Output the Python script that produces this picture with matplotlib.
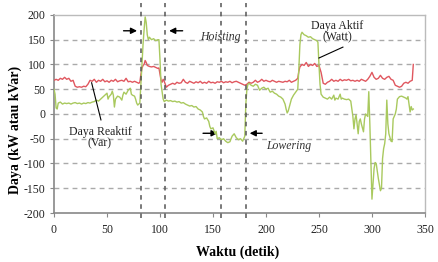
import matplotlib
matplotlib.use("Agg")
import matplotlib.pyplot as plt

plt.rcParams['font.family'] = ['Liberation Serif', 'DejaVu Serif']
plt.rcParams['font.serif'] = ['Liberation Serif', 'DejaVu Serif']
plt.rcParams['axes.unicode_minus'] = False

# Daya Aktif (Watt) - green
t_aktif = [0, 1, 2, 3, 4, 6, 8, 10, 12, 14, 16, 18, 20, 22, 24, 26, 28, 30, 32, 34, 36, 38,
           40, 42, 44, 46, 48, 50, 51, 52, 54, 55, 56, 57, 58, 60, 62, 64, 65, 66, 68, 70,
           72, 73, 74, 76, 77, 78, 79, 80, 81, 82, 83, 84, 85, 86, 87, 88, 89, 90, 92, 94,
           96, 98, 99, 100, 101, 102, 103, 104, 106, 108, 110, 112, 114, 116, 118, 120,
           122, 124, 126, 128, 130, 132, 134, 136, 138, 140, 141, 142, 144, 146, 147, 148,
           150, 152, 153, 154, 156, 158, 160, 162, 164, 166, 168, 170, 172, 174, 176, 178,
           180, 181, 182, 183, 184, 186, 188, 190, 192, 194, 196, 198, 200, 202, 204, 206,
           208, 210, 212, 214, 216, 218, 219, 220, 221, 222, 224, 226, 228, 230, 231, 232,
           233, 234, 236, 238, 240, 242, 244, 246, 248, 249, 250, 251, 252, 254, 256, 258,
           260, 262, 264, 265, 266, 268, 270, 271, 272, 274, 276, 278, 280, 281, 282, 283,
           284, 285, 286, 287, 288, 289, 290, 292, 293, 294, 296, 297, 298, 299, 300, 301,
           302, 303, 304, 306, 308, 309, 310, 311, 312, 313, 314, 315, 316, 318, 319, 320,
           322, 323, 324, 326, 328, 330, 332, 333, 334, 335, 336, 337, 338, 339]
v_aktif = [50, 40, 12, 10, 22, 24, 20, 22, 21, 22, 20, 22, 23, 21, 22, 20, 22, 21, 23, 22, 24, 25,
           28, 26, 30, 34, 38, 42, 30, 35, 40, 46, 38, 14, 30, 36, 34, 28, 38, 44, 40, 48,
           52, 40, 38, 36, 30, 22, 18, 20, 22, 60, 100, 140, 170, 196, 185, 160, 150, 155, 150, 152,
           148, 150, 150, 110, 60, 45, 30, 25, 28, 26, 27, 25, 26, 24, 25, 22,
           23, 20, 18, 16, 17, 14, 15, 10, 8, 4, -5, -10, -8, -15, -25, -30,
           -28, -40, -35, -50, -48, -52, -50, -55, -58, -56, -45, -40, -48, -52, -50, -55,
           -45, 20, 50, 60, 62, 58, 56, 60, 58, 48, 52, 54, 50, 52, 44, 46,
           42, 40, 36, 34, 30, 20, 10, 2, 6, 14, 30, 38, 44, 50, 90, 140,
           160, 165, 160, 158, 155, 156, 152, 150, 148, 145, 100, 60, 40, 34, 32, 30,
           34, 30, 38, 28, 32, 30, 40, 30, 32, 30, 29, 30, 26, 10, -5, -30,
           -10, -2, -20, -40, -15, -10, -20, -36, -10, 0, -5, 45, -20, -100, -172, -140,
           -110, -98, -100, -130, -155, -150, -90, -70, -60, -40, 28, -20, -40, -55, -56, -10,
           0, 10, 30, 35, 36, 34, 32, 30, 35, 20, 4, 15, 8, 10]

# Daya Reaktif (Var) - red
t_reaktif = [0, 2, 4, 6, 8, 10, 12, 14, 16, 18, 20, 22, 24, 26, 28, 30, 32, 34, 36, 38, 40, 42,
             44, 46, 48, 50, 52, 54, 56, 58, 60, 62, 64, 66, 68, 70, 72, 74, 76, 78, 80, 81,
             82, 83, 84, 85, 86, 87, 88, 90, 92, 94, 96, 98, 99, 100, 101, 102, 103, 104, 105,
             106, 108, 110, 112, 114, 116, 118, 120, 122, 124, 126, 128, 130, 132, 134, 136,
             138, 140, 142, 144, 146, 148, 150, 152, 154, 156, 158, 160, 162, 164, 166, 168,
             170, 172, 174, 176, 178, 180, 182, 184, 186, 188, 190, 192, 194, 196, 198, 200,
             202, 204, 206, 208, 210, 212, 214, 216, 218, 220, 222, 224, 226, 228, 230, 231,
             232, 234, 236, 238, 240, 242, 244, 246, 248, 250, 252, 254, 256, 258, 260, 262,
             264, 266, 268, 270, 272, 274, 276, 278, 280, 282, 284, 286, 288, 290, 292, 294,
             296, 298, 300, 302, 304, 306, 308, 310, 312, 314, 316, 318, 320, 322, 324, 326,
             328, 330, 332, 334, 336, 338, 339]
v_reaktif = [68, 70, 68, 72, 70, 74, 70, 72, 66, 68, 56, 54, 55, 54, 56, 55, 60, 68, 66, 70, 64, 68,
             66, 70, 65, 67, 64, 68, 66, 70, 65, 67, 68, 66, 72, 65, 66, 64, 66, 64, 62, 64,
             80, 92, 98, 100, 108, 104, 98, 96, 95, 96, 94, 92, 93, 80, 68, 64, 70, 66, 60,
             54, 58, 60, 62, 60, 64, 62, 63, 70, 64, 62, 66, 64, 62, 65, 63,
             66, 62, 64, 62, 66, 63, 64, 62, 65, 64, 66, 63, 65, 64, 66, 63,
             65, 66, 64, 62, 60, 58, 60, 64, 62, 64, 68, 64, 66, 70, 66, 68,
             66, 65, 68, 66, 64, 66, 65, 64, 66, 65, 68, 64, 66, 68, 72, 86,
             95, 100, 98, 104, 96, 100, 98, 102, 96, 98, 84, 62, 60, 64, 66, 70,
             66, 68, 66, 70, 67, 69, 68, 70, 67, 68, 66, 68, 66, 70, 68, 66,
             70, 76, 84, 74, 70, 72, 78, 72, 70, 74, 76, 70, 68, 58, 56, 54,
             56, 62, 64, 62, 66, 68, 100]

x_ticks = [0, 50, 100, 150, 200, 250, 300, 350]
y_ticks = [-200, -150, -100, -50, 0, 50, 100, 150, 200]
phase_lines = [82, 105, 158, 181]

SERIF = ['Liberation Serif', 'DejaVu Serif']

fig = plt.figure(figsize=(4.39, 2.62), dpi=100)
ax = fig.add_axes([0.123, 0.187, 0.845, 0.756])

for y in y_ticks[1:-1]:
    ax.axhline(y, color='#aaaaaa', lw=1.0, ls=(0, (3.5, 3)), zorder=0)

ax.plot(t_reaktif, v_reaktif, color='#e0575f', lw=1.0, zorder=3)
ax.plot(t_aktif, v_aktif, color='#a9c95e', lw=1.0, zorder=4)

for x in phase_lines:
    ax.axvline(x, ymin=-0.025, ymax=1.06, color='#555555', lw=1.1,
               ls=(0, (3, 3)), clip_on=False, zorder=5)

ax.set_xlim(0, 350)
ax.set_ylim(-200, 200)
ax.set_xticks(x_ticks)
ax.set_yticks(y_ticks)
ax.set_xticklabels([str(v) for v in x_ticks], family=SERIF, fontsize=8.5)
ax.set_yticklabels([str(v) for v in y_ticks], family=SERIF, fontsize=8.5)
ax.tick_params(axis='both', color='#888888', length=3, width=0.8, labelcolor='#222222')
ax.tick_params(axis='x', pad=5)
ax.tick_params(axis='y', pad=3)
for s in ['left', 'bottom']:
    ax.spines[s].set_color('#888888')
    ax.spines[s].set_linewidth(1.2)
for s in ['top', 'right']:
    ax.spines[s].set_color('#bbbbbb')
    ax.spines[s].set_linewidth(1.0)

# arrows
arrow_kw = dict(arrowstyle='-|>', color='black', lw=1.0, mutation_scale=9)
ax.annotate('', xy=(81, 168), xytext=(63, 168), arrowprops=arrow_kw)
ax.annotate('', xy=(106, 168), xytext=(124, 168), arrowprops=arrow_kw)
ax.annotate('', xy=(157, -39), xytext=(138, -39), arrowprops=arrow_kw)
ax.annotate('', xy=(182, -39), xytext=(199, -39), arrowprops=arrow_kw)

ax.text(157, 156, 'Hoisting', style='italic', fontsize=8.5, ha='center', va='center',
        color='#333333', family=SERIF)
ax.text(221, -65, 'Lowering', style='italic', fontsize=8.5, ha='center', va='center',
        color='#333333', family=SERIF)

ax.text(267, 166, 'Daya Aktif\n(Watt)', fontsize=8.5, ha='center', va='center',
        linespacing=1.0, color='#222222', family=SERIF)
ax.plot([272.6, 250], [135, 113], color='black', lw=0.8, zorder=6)
ax.text(43.4, -48, 'Daya Reaktif\n(Var)', fontsize=8.5, ha='center', va='center',
        linespacing=1.0, color='#222222', family=SERIF)
ax.plot([35.5, 44.3], [63, -12], color='black', lw=0.8, zorder=6)

fig.text(238 / 439, 1 - 252 / 262, 'Waktu (detik)', fontsize=10, fontweight='bold',
         ha='center', va='center', family=SERIF)
fig.text(15 / 439, 1 - 130 / 262, 'Daya (kW atau kVar)', fontsize=10, fontweight='bold',
         ha='center', va='center', rotation=90, family=SERIF)

fig.savefig('out.png', dpi=100)
